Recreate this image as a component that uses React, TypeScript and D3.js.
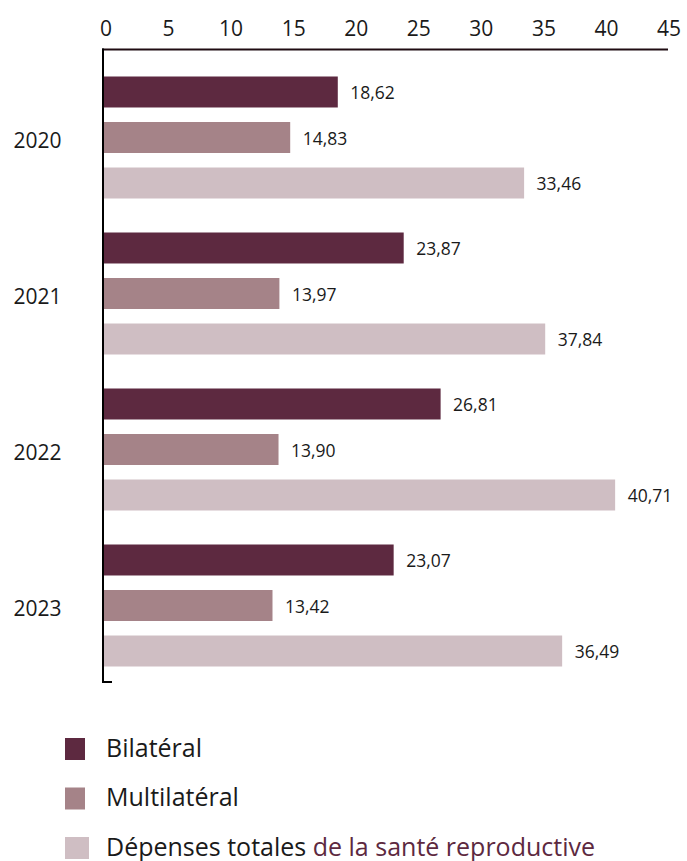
import React from "react";
import * as d3 from "d3";

const years = ["2020", "2021", "2022", "2023"];
const seriesNames = ["Bilatéral", "Multilatéral", "Dépenses totales"];
const bilateral = [18.62, 23.87, 26.81, 23.07];
const multilateral = [14.83, 13.97, 13.9, 13.42];
const totals = [33.46, 37.84, 40.71, 36.49];
// bar lengths as drawn in the reference (the 2021 total bar is drawn shorter than its label)
const totalsDrawn = [33.46, 35.14, 40.71, 36.49];
const xTicks = [0, 5, 10, 15, 20, 25, 30, 35, 40, 45];
const colors = ["#5d2940", "#a58388", "#cfbec3"];

const W = 687;
const H = 861;
const FONT = "'Open Sans', 'Noto Sans', sans-serif";

export default function App() {
  const x = d3.scaleLinear().domain([0, 45]).range([104, 669]);
  const xLabel = d3.scaleLinear().domain([0, 45]).range([106, 669]);
  const yOuter = d3.scaleBand<string>().domain(years).range([59.5, 683.5]);
  const yInner = d3
    .scaleBand<string>()
    .domain(seriesNames)
    .range([17, 139])
    .paddingInner(0.319)
    .paddingOuter(0);
  const labels = [bilateral, multilateral, totals];
  const drawn = [bilateral, multilateral, totalsDrawn];
  const fmt = (v: number) => v.toFixed(2).replace(".", ",");
  const bw = yInner.bandwidth();

  return (
    <svg width={W} height={H} style={{ display: "block", position: "absolute", left: 0, top: 0 }} fontFamily={FONT}>
      <rect width={W} height={H} fill="#ffffff" />
      {xTicks.map((t) => (
        <text key={t} x={xLabel(t)} y={35.5} textAnchor="middle" fontSize={21} fill="#1a1a1a">
          {t}
        </text>
      ))}
      <line x1={x(0) - 2} x2={x(45) - 1} y1={49.5} y2={49.5} stroke="#1f0c12" strokeWidth={2} />
      <line x1={x(0) - 1} x2={x(0) - 1} y1={48.5} y2={683} stroke="#000" strokeWidth={2} />
      <line x1={x(0) - 2} x2={x(0) + 8} y1={682} y2={682} stroke="#000" strokeWidth={2} />
      {years.map((yr, i) => (
        <g key={yr} transform={`translate(0,${yOuter(yr)})`}>
          <text x={61.5} y={yOuter.bandwidth() / 2 + 10} textAnchor="end" fontSize={21} fill="#1a1a1a">
            {yr}
          </text>
          {seriesNames.map((s, j) => {
            const y0 = yInner(s) as number;
            const vd = drawn[j][i];
            return (
              <g key={s}>
                <rect x={x(0)} y={y0} width={x(vd) - x(0)} height={bw} fill={colors[j]} />
                <text x={x(vd) + 12.5} y={y0 + bw / 2 + 7} fontSize={17.5} fill="#1a1a1a">
                  {fmt(labels[j][i])}
                </text>
              </g>
            );
          })}
        </g>
      ))}
      {seriesNames.map((s, j) => {
        const ly = 738 + j * 49.5;
        return (
          <g key={s}>
            <rect x={65} y={ly} width={j === 2 ? 24 : 20} height={22} fill={colors[j]} />
            <text x={106} y={ly + 18.5} fontSize={25} fill="#1a1a1a">
              {s}
              {j === 2 ? <tspan fill="#5d2940"> de la santé reproductive</tspan> : null}
            </text>
          </g>
        );
      })}
    </svg>
  );
}
